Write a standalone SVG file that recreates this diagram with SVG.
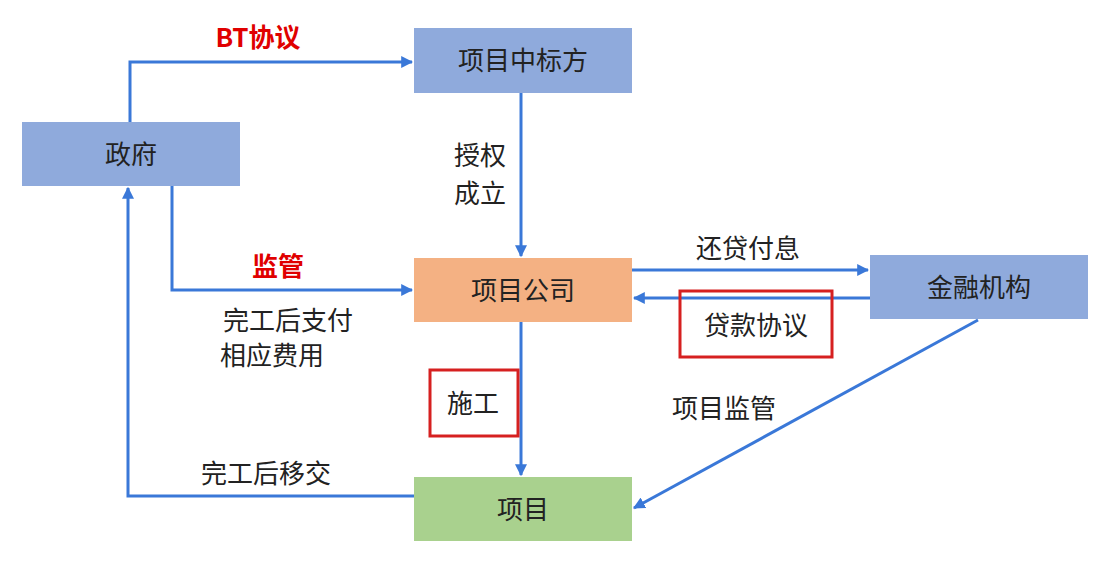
<svg xmlns="http://www.w3.org/2000/svg" width="1100" height="564" viewBox="0 0 1100 564">
<style>
text{font-family:"Noto Sans CJK SC","Liberation Sans",sans-serif;font-size:26px;fill:#222;text-anchor:middle}
.b{fill:#8FAADC}.r{fill:#E00000;font-weight:bold}
.c{fill:none;stroke:#3A78D8;stroke-width:3;marker-end:url(#a)}
.box{fill:none;stroke:#D62020;stroke-width:3}
</style>
<defs><marker id="a" viewBox="0 0 10 10" refX="9" refY="5" markerWidth="4" markerHeight="4" orient="auto"><path d="M0,0L10,5L0,10z" fill="#3A78D8"/></marker></defs>
<rect width="1100" height="564" fill="#fff"/>
<g id="zf"><rect class="b" x="22" y="122" width="218" height="64"/><text x="131" y="164">政府</text></g>
<g id="zbf"><rect class="b" x="414" y="28" width="218" height="65"/><text x="523" y="70">项目中标方</text></g>
<g id="gs"><rect fill="#F4B183" x="414" y="258" width="218" height="64"/><text x="523" y="300">项目公司</text></g>
<g id="jr"><rect class="b" x="870" y="255" width="218" height="64"/><text x="979" y="297">金融机构</text></g>
<g id="xm"><rect fill="#A9D18E" x="414" y="477" width="218" height="64"/><text x="523" y="519">项目</text></g>
<g id="connectors">
<path class="c" d="M130,122V62H412"/>
<path class="c" d="M521,93V256"/>
<path class="c" d="M172,186V290H412"/>
<path class="c" d="M632,270H868"/>
<path class="c" d="M870,298H634"/>
<path class="c" d="M521,322V475"/>
<path class="c" d="M978,320L634,508"/>
<path class="c" d="M414,496H128V188"/>
</g>
<g id="labels">
<text class="r" x="258" y="47">BT协议</text>
<text x="480" y="165">授权</text><text x="480" y="203">成立</text>
<text class="r" x="278" y="276">监管</text>
<text x="288" y="330">完工后支付</text><text x="272" y="365">相应费用</text>
<text x="748" y="258">还贷付息</text>
<rect class="box" x="680" y="291" width="152" height="66"/><text x="756" y="335">贷款协议</text>
<rect class="box" x="430" y="370" width="88" height="66"/><text x="473" y="413">施工</text>
<text x="724" y="418">项目监管</text>
<text x="266" y="483">完工后移交</text>
</g>
</svg>
